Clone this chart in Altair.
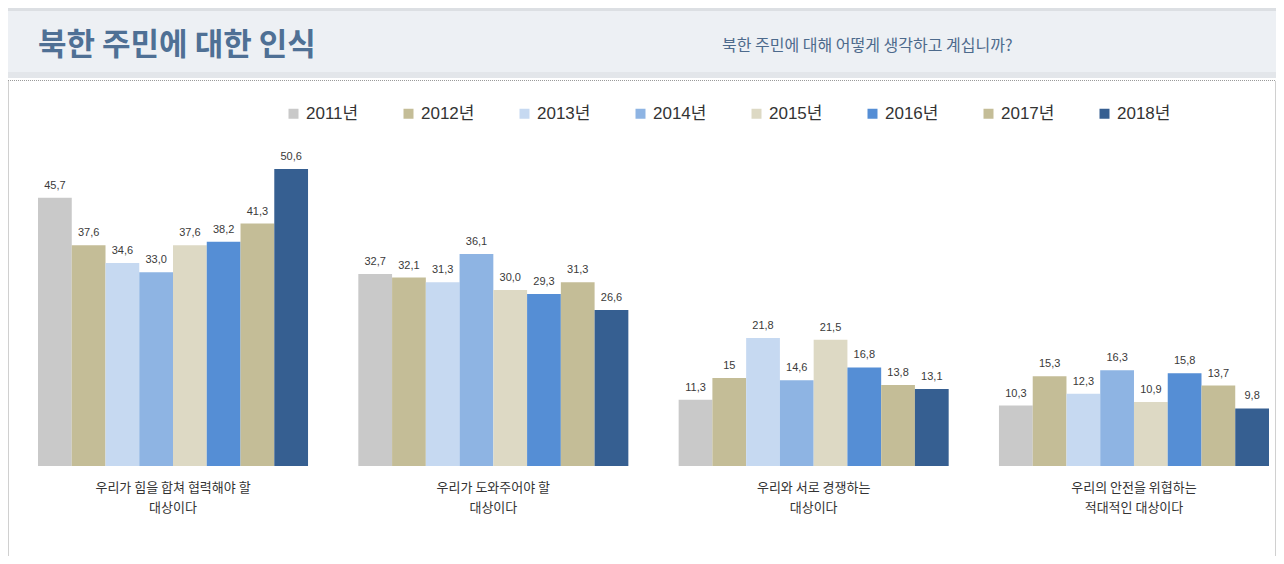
import altair as alt
import pandas as pd

categories = [
    "우리가 힘을 합쳐 협력해야 할\n대상이다",
    "우리가 도와주어야 할\n대상이다",
    "우리와 서로 경쟁하는\n대상이다",
    "우리의 안전을 위협하는\n적대적인 대상이다",
]
years = ["2011년", "2012년", "2013년", "2014년", "2015년", "2016년", "2017년", "2018년"]
cooperate = [45.7, 37.6, 34.6, 33.0, 37.6, 38.2, 41.3, 50.6]
help_ = [32.7, 32.1, 31.3, 36.1, 30.0, 29.3, 31.3, 26.6]
compete = [11.3, 15, 21.8, 14.6, 21.5, 16.8, 13.8, 13.1]
hostile = [10.3, 15.3, 12.3, 16.3, 10.9, 15.8, 13.7, 9.8]
value_labels = [
    ["45,7", "37,6", "34,6", "33,0", "37,6", "38,2", "41,3", "50,6"],
    ["32,7", "32,1", "31,3", "36,1", "30,0", "29,3", "31,3", "26,6"],
    ["11,3", "15", "21,8", "14,6", "21,5", "16,8", "13,8", "13,1"],
    ["10,3", "15,3", "12,3", "16,3", "10,9", "15,8", "13,7", "9,8"],
]
colors = ["#c9c9c9", "#c4bd97", "#c6d9f1", "#8eb4e3", "#ddd9c4", "#558ed5", "#c4bd97", "#365f91"]

title_text = "북한 주민에 대한 인식"
subtitle_text = "북한 주민에 대해 어떻게 생각하고 계십니까?"

rows = []
for cat, vals, labs in zip(categories, [cooperate, help_, compete, hostile], value_labels):
    for y, v, l in zip(years, vals, labs):
        rows.append({"group": cat, "year": y, "value": v, "label": l})
df = pd.DataFrame(rows)
cat_df = pd.DataFrame({"group": categories})
one = pd.DataFrame({"k": [0]})

W, H = 1268, 548
KFONT = "Liberation Sans, Noto Sans CJK KR"

xenc = alt.X("group:N", sort=categories, axis=None,
             scale=alt.Scale(range=[30, 1261], paddingInner=0.157, paddingOuter=0))
xoff = alt.XOffset("year:N", sort=years, scale=alt.Scale(paddingInner=0, paddingOuter=0))
yenc = alt.Y("value:Q", axis=None, scale=alt.Scale(domain=[-15.33, 78.03], nice=False, zero=False))

header = alt.Chart(one).mark_rect(color="#edf0f4").encode(
    x=alt.value(0), x2=alt.value(W), y=alt.value(0), y2=alt.value(70))
header_top = alt.Chart(one).mark_rect(color="#dcdfe3").encode(
    x=alt.value(0), x2=alt.value(W), y=alt.value(0), y2=alt.value(3))
header_bot = alt.Chart(one).mark_rect(color="#e3e6ea").encode(
    x=alt.value(0), x2=alt.value(W), y=alt.value(64), y2=alt.value(70))
dotted = alt.Chart(one).mark_rule(color="#9a9a9a", strokeDash=[1, 1], strokeWidth=1).encode(
    x=alt.value(0), x2=alt.value(W), y=alt.value(72.5))
left_border = alt.Chart(one).mark_rule(color="#d0d0d0").encode(
    x=alt.value(0.5), y=alt.value(73), y2=alt.value(H))
right_border = alt.Chart(one).mark_rule(color="#d0d0d0").encode(
    x=alt.value(W - 0.5), y=alt.value(73), y2=alt.value(H))

title = alt.Chart(one).mark_text(
    align="left", baseline="middle", fontSize=31, fontWeight="bold",
    font="Noto Sans CJK KR", color="#4f7095").encode(
    x=alt.value(30), y=alt.value(38), text=alt.value(title_text))
subtitle = alt.Chart(one).mark_text(
    align="left", baseline="middle", fontSize=16, font="Noto Sans CJK KR",
    color="#4d6a8c").encode(
    x=alt.value(714), y=alt.value(38), text=alt.value(subtitle_text))

bars = alt.Chart(df).mark_bar().encode(
    x=xenc, xOffset=xoff, y=yenc, y2=alt.datum(0),
    color=alt.Color("year:N", sort=years,
                    scale=alt.Scale(domain=years, range=colors),
                    legend=alt.Legend(orient="none", legendX=277, legendY=97,
                                      direction="horizontal", title=None,
                                      symbolType="square", symbolSize=100,
                                      symbolStrokeWidth=0, labelFontSize=17,
                                      labelFont=KFONT, labelColor="#333333",
                                      labelOffset=4, columnPadding=41, padding=0)),
)
labels = alt.Chart(df).mark_text(
    baseline="bottom", dy=-7, fontSize=11, font="Liberation Sans",
    color="#3a3a3a").encode(
    x=xenc, xOffset=xoff, y=yenc, text="label:N")
cat_labels = alt.Chart(cat_df).mark_text(
    baseline="top", lineBreak="\n", lineHeight=20, fontSize=13,
    font="Noto Sans CJK KR", color="#333333").encode(
    x=xenc, y=alt.value(474), text="group:N")

chart = alt.layer(
    header, header_top, header_bot, dotted, left_border, right_border,
    title, subtitle, bars, labels, cat_labels
).properties(
    width=W, height=H, padding=0,
    autosize=alt.AutoSizeParams(type="none"),
    background="white",
).configure_view(stroke=None)

chart.save("out.html", embed_options={"renderer": "svg", "actions": False})
